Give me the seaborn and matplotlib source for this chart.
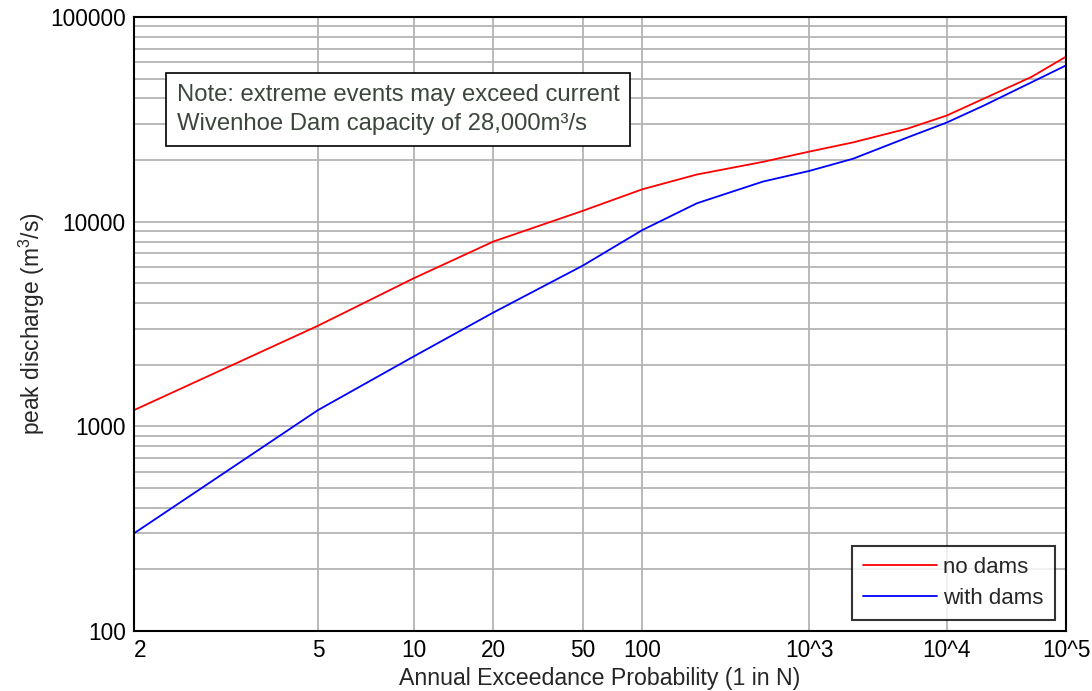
import math
from statistics import NormalDist

import numpy as np
import pandas as pd
import matplotlib
matplotlib.use("Agg")
import matplotlib.pyplot as plt
from matplotlib.ticker import FixedLocator, NullLocator, NullFormatter, LogLocator
import seaborn as sns

# return period N (1 in N) and peak discharge
return_period = [2, 5, 10, 20, 50, 100, 200, 500, 1000, 2000, 5000, 10000, 20000, 50000, 100000]
no_dams = [1200, 3100, 5300, 8000, 11300, 14400, 17000, 19600, 22000, 24400, 28500, 33000, 40000, 51000, 64000]
with_dams = [300, 1200, 2200, 3600, 6100, 9100, 12300, 15700, 17700, 20300, 25800, 30500, 37000, 48000, 58000]

x_ticks = [2, 5, 10, 20, 50, 100, 1000, 10000, 100000]
x_tick_labels = ["2", "5", "10", "20", "50", "100", "10^3", "10^4", "10^5"]
y_ticks = [100, 1000, 10000, 100000]
y_tick_labels = ["100", "1000", "10000", "100000"]

note = "Note: extreme events may exceed current\nWivenhoe Dam capacity of 28,000m\u00b3/s"

_nd = NormalDist()
_ppf = np.vectorize(lambda q: _nd.inv_cdf(q) if np.isfinite(q) else np.nan, otypes=[float])
_erfc = np.vectorize(math.erfc, otypes=[float])


def aep_forward(n):
    """1 in N -> standard normal quantile of non-exceedance (probability paper)."""
    n = np.asarray(n, dtype=float)
    with np.errstate(divide="ignore", invalid="ignore"):
        p = 1.0 - 1.0 / n
    p = np.clip(p, 1e-12, 1 - 1e-15)
    return _ppf(p)


def aep_inverse(z):
    z = np.asarray(z, dtype=float)
    tail = 0.5 * _erfc(z / math.sqrt(2))
    with np.errstate(divide="ignore"):
        return 1.0 / tail


sns.set_style("white")
plt.rcParams["font.family"] = ["Liberation Sans", "DejaVu Sans"]
plt.rcParams["mathtext.fontset"] = "custom"
plt.rcParams["mathtext.rm"] = "Liberation Sans"
plt.rcParams["mathtext.it"] = "Liberation Sans"
plt.rcParams["font.size"] = 16

df = pd.DataFrame({
    "N": return_period * 2,
    "discharge": no_dams + with_dams,
    "scenario": ["no dams"] * len(no_dams) + ["with dams"] * len(with_dams),
})

fig = plt.figure(figsize=(10.92, 6.91), dpi=100)
ax = fig.add_axes([0.1227, 0.0868, 0.8535, 0.8886])

sns.lineplot(data=df, x="N", y="discharge", hue="scenario",
             palette={"no dams": "red", "with dams": "blue"},
             errorbar=None, linewidth=1.3, ax=ax)

ax.set_xscale("function", functions=(aep_forward, aep_inverse))
ax.set_yscale("log")
ax.set_xlim(2, 100000)
ax.set_ylim(100, 100000)

ax.xaxis.set_major_locator(FixedLocator(x_ticks))
ax.set_xticklabels(x_tick_labels)
ax.xaxis.set_minor_locator(NullLocator())
ax.get_xticklabels()[0].set_horizontalalignment("left")

ax.yaxis.set_major_locator(FixedLocator(y_ticks))
ax.set_yticklabels(y_tick_labels)
ax.yaxis.set_minor_locator(LogLocator(base=10, subs=range(2, 10)))
ax.yaxis.set_minor_formatter(NullFormatter())

ax.grid(True, axis="x", which="major", color="#b4b4b4", linewidth=1.3)
ax.grid(True, axis="y", which="both", color="#b4b4b4", linewidth=1.3)
ax.set_axisbelow(True)

ax.tick_params(axis="both", which="both", direction="in", top=False, right=False,
               width=1.4, colors="black", labelsize=16.3)
ax.tick_params(axis="both", which="major", length=9, pad=6)
ax.tick_params(axis="y", which="minor", length=5)
for s in ax.spines.values():
    s.set_color("black")
    s.set_linewidth(1.5)

ax.set_xlabel("Annual Exceedance Probability (1 in N)", fontsize=16.7, labelpad=3)
ax.set_ylabel("peak discharge (m$^3$/s)", fontsize=16.4, labelpad=2)

ax.text(0.046, 0.891, note, transform=ax.transAxes, ha="left", va="top",
        fontsize=17.2, color="#3c463c", linespacing=1.42,
        bbox=dict(boxstyle="square,pad=0.45", facecolor="white", edgecolor="black", linewidth=1.2))

leg = ax.legend(loc="lower right", title=None, frameon=True, fancybox=False,
                fontsize=16, handlelength=3.3, handletextpad=0.3,
                borderpad=0.5, labelspacing=0.45, borderaxespad=0.5)
leg.get_frame().set_edgecolor("black")
leg.get_frame().set_linewidth(1.5)
for line in leg.get_lines():
    line.set_linewidth(1.3)

fig.savefig("out.png", dpi=100)
